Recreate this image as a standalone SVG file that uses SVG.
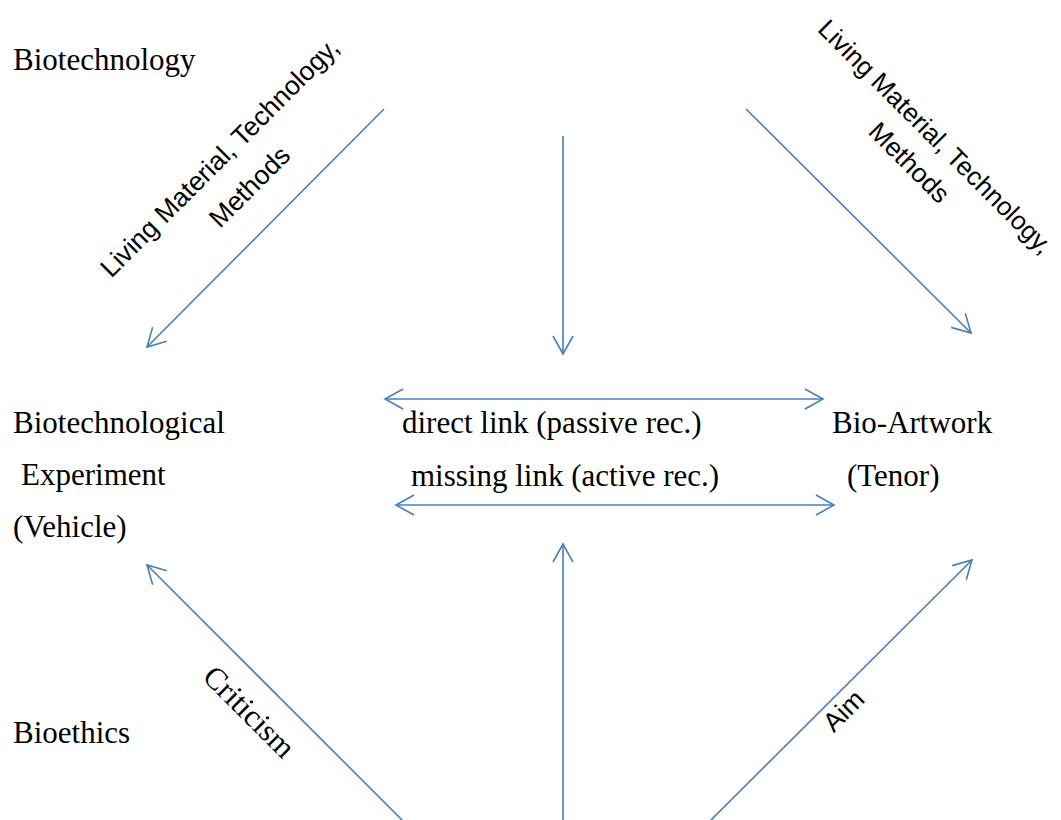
<svg xmlns="http://www.w3.org/2000/svg" width="1061" height="820" viewBox="0 0 1061 820">
<defs>
<style>
.serif{font-family:"Liberation Serif","Times New Roman",serif;font-size:31px;fill:#000}
.sans{font-family:"Liberation Sans",Arial,sans-serif;font-size:26.5px;fill:#000}
.c{stroke:#4A7EBB;stroke-width:1.6;fill:none}
</style>
<marker id="ah" viewBox="-20 -12 22 24" markerWidth="22" markerHeight="24" refX="0" refY="0" orient="auto-start-reverse" markerUnits="userSpaceOnUse">
<path d="M-18,-10 L0,0 L-18,10" fill="none" stroke="#4A7EBB" stroke-width="1.6"/>
</marker>
</defs>
<rect width="1061" height="820" fill="#fff"/>
<g id="connectors">
<line class="c" x1="384" y1="109" x2="147" y2="347" marker-end="url(#ah)"/>
<line class="c" x1="563" y1="136" x2="563" y2="354" marker-end="url(#ah)"/>
<line class="c" x1="746" y1="109" x2="971" y2="333" marker-end="url(#ah)"/>
<line class="c" x1="385" y1="399" x2="823" y2="399" marker-start="url(#ah)" marker-end="url(#ah)"/>
<line class="c" x1="396" y1="505" x2="834" y2="505" marker-start="url(#ah)" marker-end="url(#ah)"/>
<line class="c" x1="403" y1="821" x2="147" y2="565" marker-end="url(#ah)"/>
<line class="c" x1="563" y1="821" x2="563" y2="544" marker-end="url(#ah)"/>
<line class="c" x1="710" y1="821" x2="972" y2="560" marker-end="url(#ah)"/>
</g>
<g id="biotechnology"><text class="serif" x="13" y="70">Biotechnology</text></g>
<g id="experiment">
<text class="serif" x="13" y="433">Biotechnological</text>
<text class="serif" x="21" y="485">Experiment</text>
<text class="serif" x="13" y="537">(Vehicle)</text>
</g>
<g id="links">
<text class="serif" x="402" y="433">direct link (passive rec.)</text>
<text class="serif" x="411" y="486">missing link (active rec.)</text>
</g>
<g id="bioartwork">
<text class="serif" x="832" y="433">Bio-Artwork</text>
<text class="serif" x="847" y="486">(Tenor)</text>
</g>
<g id="bioethics"><text class="serif" x="13" y="743">Bioethics</text></g>
<g id="label-left">
<text class="sans" text-anchor="middle" transform="translate(226,164) rotate(-45)">Living Material, Technology,</text>
<text class="sans" text-anchor="middle" transform="translate(256,193) rotate(-45)">Methods</text>
</g>
<g id="label-right">
<text class="sans" text-anchor="middle" style="font-size:26px" transform="translate(929,143) rotate(45)">Living Material, Technology,</text>
<text class="sans" text-anchor="middle" transform="translate(903,169) rotate(45)">Methods</text>
</g>
<g id="label-criticism"><text class="serif" text-anchor="middle" transform="translate(242,719) rotate(45)">Criticism</text></g>
<g id="label-aim"><text class="sans" text-anchor="middle" transform="translate(850,717) rotate(-45)">Aim</text></g>
</svg>
